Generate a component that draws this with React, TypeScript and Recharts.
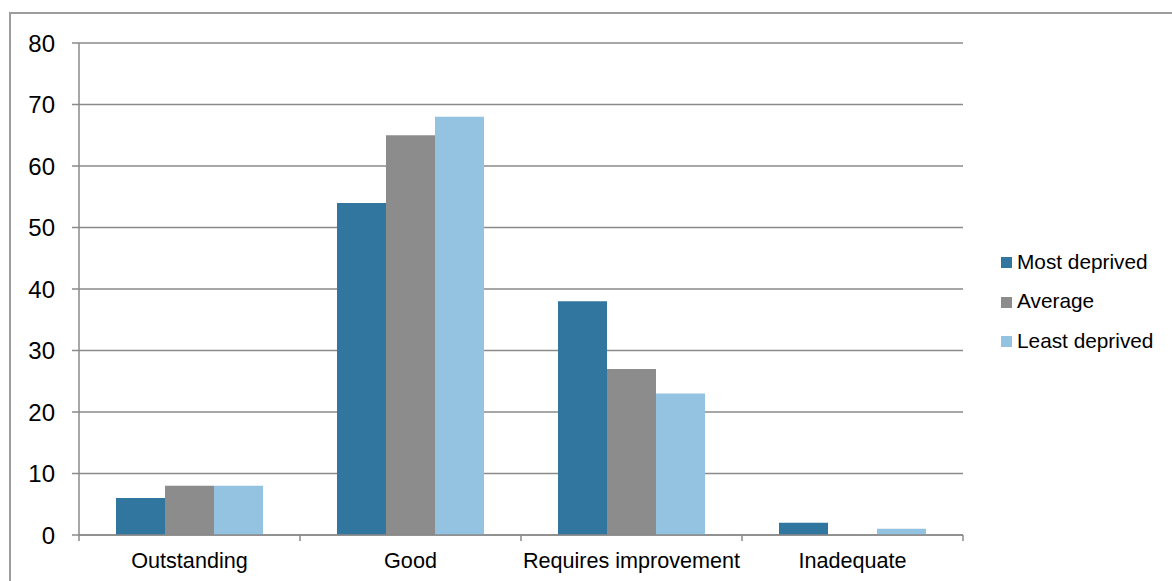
import React from "react";
import { BarChart, Bar, XAxis, YAxis, CartesianGrid, Legend } from "recharts";

// Ofsted judgement shares (%) by deprivation group
const categories = ["Outstanding", "Good", "Requires improvement", "Inadequate"];
const mostDeprived = [6, 54, 38, 2];
const average = [8, 65, 27, 0];
const leastDeprived = [8, 68, 23, 1];
const yTicks = [0, 10, 20, 30, 40, 50, 60, 70, 80];

const seriesNames = ["Most deprived", "Average", "Least deprived"];
const seriesColors = ["#31769F", "#8C8C8C", "#93C3E0"];

const data = categories.map((name, i) => ({
  name,
  most: mostDeprived[i],
  avg: average[i],
  least: leastDeprived[i],
}));

const FONT = "'Liberation Sans', Arial, Helvetica, sans-serif";
const AXIS_GREY = "#8A8A8A";

// Category label centred in its band, with tick marks on the band edges
const CategoryTick = (props: any) => {
  const { x, y, payload, index, visibleTicksCount } = props;
  const half = payload && typeof payload.offset === "number" ? payload.offset : 0;
  const last = index === (visibleTicksCount ?? categories.length) - 1;
  return (
    <g>
      <line x1={x - half} y1={y} x2={x - half} y2={y + 6} stroke={AXIS_GREY} strokeWidth={1.5} />
      {last && (
        <line x1={x + half} y1={y} x2={x + half} y2={y + 6} stroke={AXIS_GREY} strokeWidth={1.5} />
      )}
      <text x={x} y={y + 33} textAnchor="middle" fill="#000" fontSize={21.6} fontFamily={FONT}>
        {payload.value}
      </text>
    </g>
  );
};

const LegendContent = () => (
  <div style={{ fontFamily: FONT, fontSize: 20.8, color: "#000" }}>
    {seriesNames.map((n, i) => (
      <div key={n} style={{ display: "flex", alignItems: "center", height: 39.5 }}>
        <span
          style={{
            display: "inline-block",
            width: 11,
            height: 11,
            background: seriesColors[i],
            marginRight: 5,
            marginTop: 2,
          }}
        />
        <span>{n}</span>
      </div>
    ))}
  </div>
);

export default function App() {
  return (
    <div style={{ position: "absolute", left: 0, top: 0, width: 1172, height: 581, overflow: "hidden", background: "#fff" }}>
      <div
        style={{
          position: "absolute",
          left: 9,
          top: 12,
          width: 1200,
          height: 620,
          border: "2px solid #9C9C9C",
          boxSizing: "border-box",
        }}
      />
      <div style={{ position: "absolute", left: 0, top: 0 }}>
        <BarChart
          width={1172}
          height={581}
          data={data}
          margin={{ top: 43, right: 209, bottom: 16, left: 9 }}
          barCategoryGap={37}
          barGap={0}
        >
          <CartesianGrid vertical={false} stroke={AXIS_GREY} strokeWidth={1.5} />
          <XAxis
            dataKey="name"
            axisLine={{ stroke: AXIS_GREY, strokeWidth: 1.5 }}
            tickLine={false}
            tickSize={0}
            tickMargin={0}
            height={30}
            interval={0}
            tick={<CategoryTick />}
          />
          <YAxis
            domain={[0, 80]}
            ticks={yTicks}
            width={70}
            interval={0}
            axisLine={{ stroke: AXIS_GREY, strokeWidth: 1.5 }}
            tickLine={{ stroke: AXIS_GREY, strokeWidth: 1.5 }}
            tickSize={7}
            tickMargin={17}
            tick={{ fill: "#000", fontSize: 24, fontFamily: FONT }}
          />
          <Legend
            layout="vertical"
            align="center"
            verticalAlign="middle"
            content={<LegendContent />}
            wrapperStyle={{ left: 1001, top: 242, width: 170 }}
          />
          <Bar dataKey="most" name={seriesNames[0]} fill={seriesColors[0]} isAnimationActive={false} />
          <Bar dataKey="avg" name={seriesNames[1]} fill={seriesColors[1]} isAnimationActive={false} />
          <Bar dataKey="least" name={seriesNames[2]} fill={seriesColors[2]} isAnimationActive={false} />
        </BarChart>
      </div>
    </div>
  );
}
